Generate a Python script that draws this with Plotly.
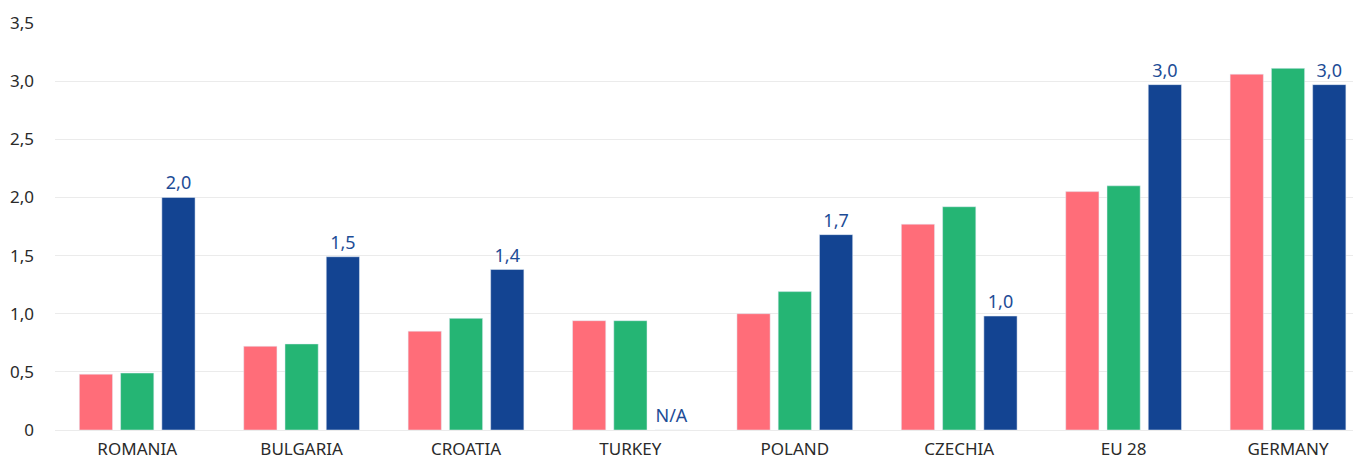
import plotly.graph_objects as go

COUNTRIES = ["ROMANIA", "BULGARIA", "CROATIA", "TURKEY", "POLAND", "CZECHIA", "EU 28", "GERMANY"]
SERIES_PINK = [0.48, 0.72, 0.85, 0.94, 1.00, 1.77, 2.05, 3.06]
SERIES_GREEN = [0.49, 0.74, 0.96, 0.94, 1.19, 1.92, 2.10, 3.11]
SERIES_BLUE = [2.0, 1.49, 1.38, None, 1.68, 0.98, 2.97, 2.97]

Y_TICKS = [0, 0.5, 1.0, 1.5, 2.0, 2.5, 3.0, 3.5]
Y_TICK_LABELS = ["0", "0,5", "1,0", "1,5", "2,0", "2,5", "3,0", "3,5"]

COLORS = {"pink": "#FF6D79", "green": "#25B574", "blue": "#134492", "ink": "#2A2A2A", "grid": "#EBEBEB"}
FONT = "Noto Sans, Inter, sans-serif"

blue_y = [v if v is not None else 0 for v in SERIES_BLUE]
blue_text = [f"{v:.1f}".replace(".", ",") if v is not None else "N/A" for v in SERIES_BLUE]

fig = go.Figure()
fig.add_trace(go.Bar(x=COUNTRIES, y=SERIES_PINK, marker_color=COLORS["pink"], name="a"))
fig.add_trace(go.Bar(x=COUNTRIES, y=SERIES_GREEN, marker_color=COLORS["green"], name="b"))
fig.add_trace(go.Bar(
    x=COUNTRIES, y=blue_y, marker_color=COLORS["blue"], name="c",
    text=blue_text, textposition="outside", cliponaxis=False,
    textfont=dict(size=18, color="#1D4C96", family=FONT),
))

# page body has an 8px margin, so the figure is sized to fit the 1361x462 window
fig.update_layout(
    width=1353, height=454,
    barmode="group", bargap=0.247, bargroupgap=0.195,
    plot_bgcolor="white", paper_bgcolor="white",
    showlegend=False,
    font=dict(family=FONT, color=COLORS["ink"]),
    margin=dict(l=47, r=0, t=15, b=32),
)
fig.update_yaxes(
    range=[0, 3.5], tickvals=Y_TICKS, ticktext=Y_TICK_LABELS,
    showgrid=True, gridcolor=COLORS["grid"], gridwidth=1,
    zeroline=True, zerolinecolor=COLORS["grid"], zerolinewidth=1,
    tickfont=dict(size=17, color=COLORS["ink"]), ticklabelstandoff=20,
    automargin=False,
)
# the last category runs a little past the right edge in the original
fig.update_xaxes(
    range=[-0.5, 7.444],
    showline=False, ticks="", automargin=False,
    tickfont=dict(size=17, color=COLORS["ink"]), ticklabelstandoff=7,
)

fig.write_html("out.html")
